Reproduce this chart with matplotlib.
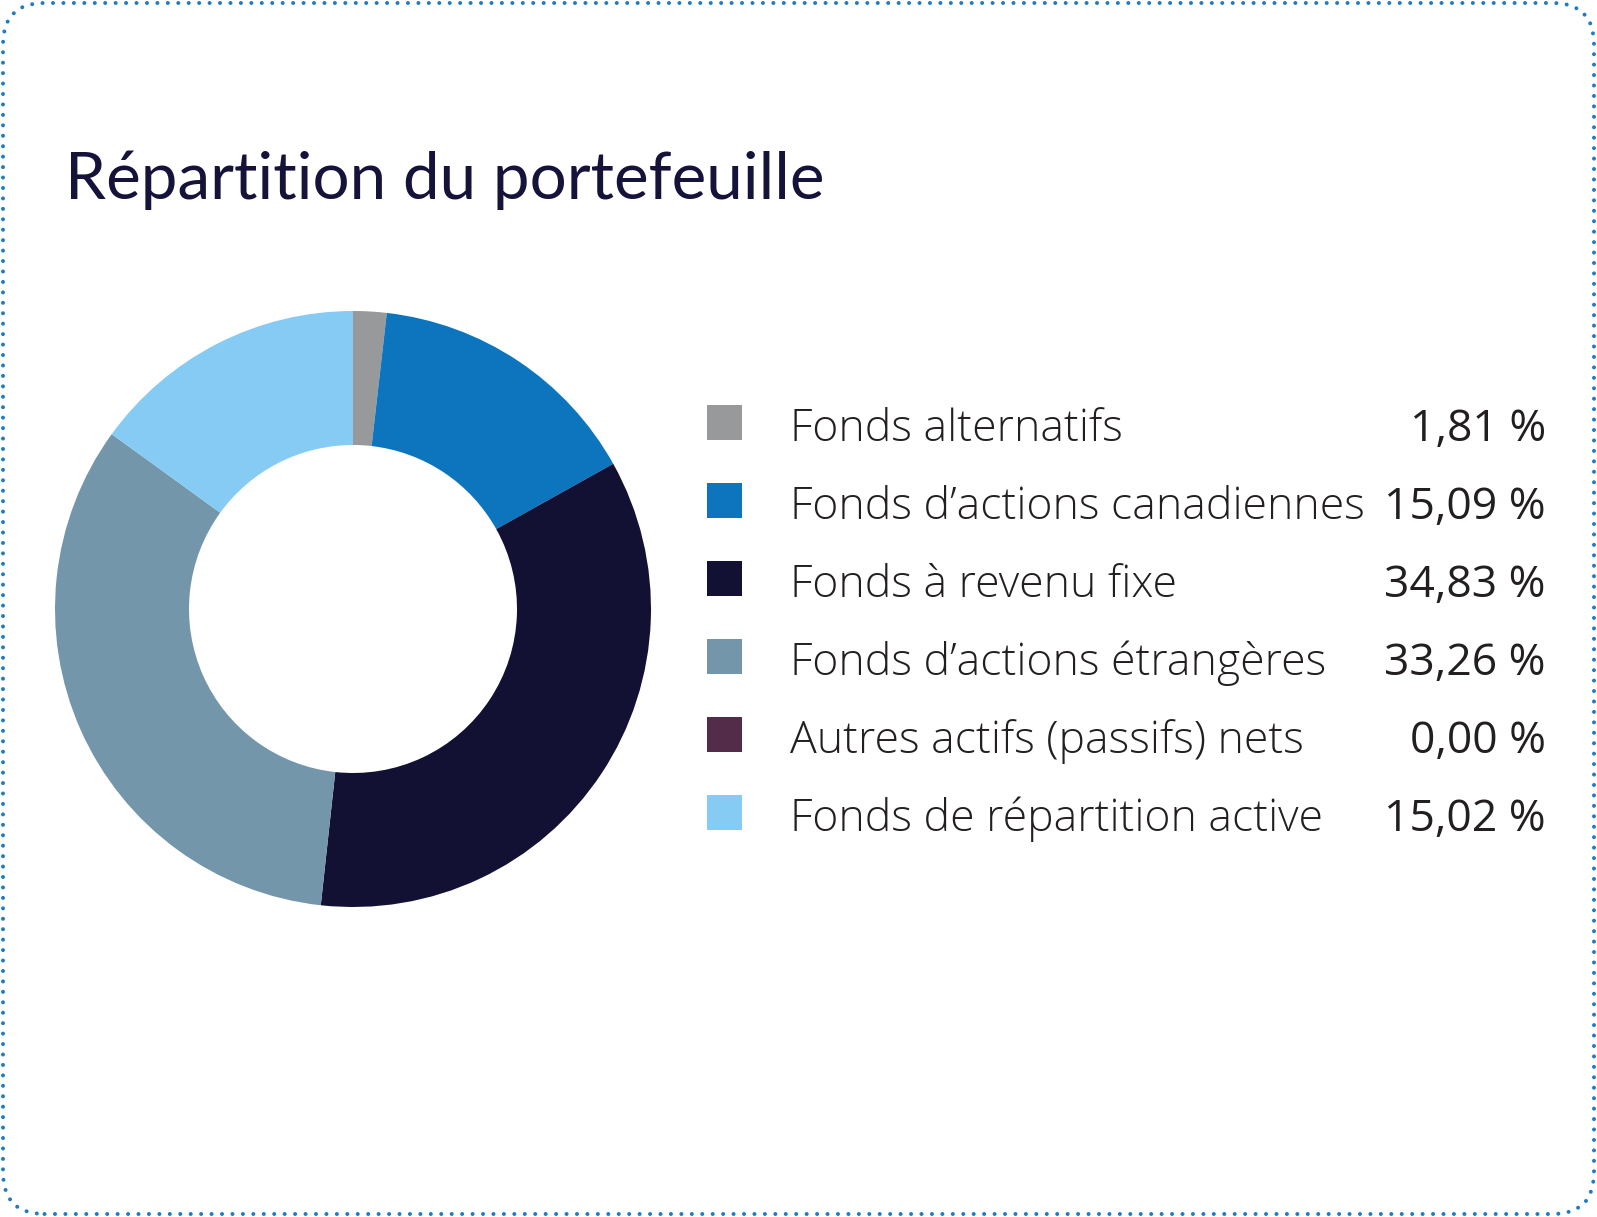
import matplotlib
matplotlib.use("Agg")
import matplotlib.pyplot as plt
from matplotlib.patches import FancyBboxPatch, Rectangle

# data
categories = [
    "Fonds alternatifs",
    "Fonds d\u2019actions canadiennes",
    "Fonds à revenu fixe",
    "Fonds d\u2019actions étrangères",
    "Autres actifs (passifs) nets",
    "Fonds de répartition active",
]
weights = [1.81, 15.09, 34.83, 33.26, 0.00, 15.02]
colors = ["#98999b", "#0c75bd", "#121133", "#7396ab", "#532c4a", "#86cbf3"]
title = "Répartition du portefeuille"

W, H = 1597, 1217
DPI = 100


def px(v):
    return v * 72 / DPI


fig = plt.figure(figsize=(W / DPI, H / DPI), dpi=DPI)
fig.patch.set_facecolor("white")

# dotted rounded frame
frame = FancyBboxPatch(
    (3 / W, 3 / H), (W - 6) / W, (H - 6) / H,
    boxstyle="round,pad=0,rounding_size=0.026",
    transform=fig.transFigure, facecolor="none", edgecolor="#1f7bc4",
    linewidth=px(4), linestyle=(0, (0.01, 2.6)), capstyle="round",
    mutation_aspect=W / H,
)
fig.patches.append(frame)

fig.text(65 / W, 1 - 199 / H, title, fontsize=px(65.5), color="#15133a",
         family="Lato", ha="left", va="baseline")

# donut
cx, cy, R, r = 353, 609, 298, 164
ax = fig.add_axes([(cx - R) / W, (H - cy - R) / H, 2 * R / W, 2 * R / H])
ax.pie(weights, colors=colors, startangle=90, counterclock=False, radius=1,
       wedgeprops=dict(width=(R - r) / R, linewidth=0))
ax.set_xlim(-1, 1)
ax.set_ylim(-1, 1)
ax.set_aspect("equal")
ax.axis("off")

# legend
row0, step = 405, 78.0
for i, (name, val, col) in enumerate(zip(categories, weights, colors)):
    top = row0 + i * step
    fig.patches.append(Rectangle((707 / W, 1 - (top + 35) / H), 35 / W, 35 / H,
                                 transform=fig.transFigure, facecolor=col,
                                 edgecolor="none"))
    base = 1 - (top + 36) / H
    fig.text(790 / W, base, name, fontsize=px(44.5), color="#231f20",
             family="Open Sans", fontweight="light", ha="left", va="baseline")
    fig.text(1546 / W, base, f"{val:.2f}".replace(".", ",") + " %",
             fontsize=px(44.5), color="#231f20", family="Open Sans",
             ha="right", va="baseline")

fig.savefig("out.png", dpi=DPI)
